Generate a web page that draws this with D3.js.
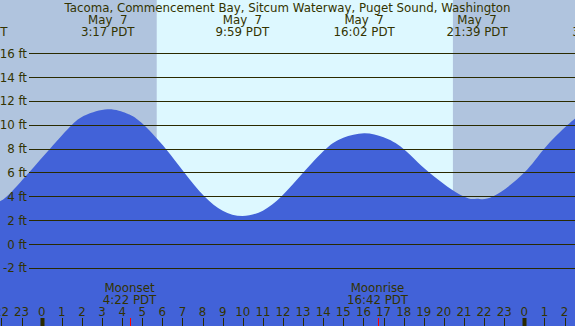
<!DOCTYPE html>
<html>
<head>
<meta charset="utf-8">
<script src="https://cdn.jsdelivr.net/npm/d3@7"></script>
<style>
  body { margin: 0; overflow: hidden; }
  text { font-family: "DejaVu Sans", sans-serif; font-size: 11.8px; fill: #333300; white-space: pre; }
</style>
</head>
<body>
<div id="chart"></div>
<script>
width = 575;
height = 326;

// tide curve (hour of May 7, feet)
var tideHours = [-2.2, -1.725, -0.632, 0.413, 1.507, 2.2, 3.283, 4.2, 4.555, 5.137, 6.166, 7.09, 8.085, 9.0, 9.983, 11.0, 11.93, 13.01, 14.14, 15.0, 16.033, 17.0, 17.98, 19.27, 20.96, 21.65, 22.46, 24.0, 24.99, 26.16, 26.6];
var tideFeet  = [3.57, 4, 6, 8, 10, 10.82, 11.3, 10.98, 10.7, 9.9, 8, 6, 4, 2.8, 2.35, 2.8, 4, 6, 8, 8.92, 9.3, 8.95, 8, 6, 4, 3.8, 4, 6, 8, 10, 10.6];

// high / low tide labels
var extremeHours = [-3.23, 3.283, 9.983, 16.033, 21.65, 27.72];
var extremeDays  = ["May  6", "May  7", "May  7", "May  7", "May  7", "May  8"];
var extremeTimes = ["20:46 PDT", "3:17 PDT", "9:59 PDT", "16:02 PDT", "21:39 PDT", "3:43 PDT"];

// moon events
var moonHours = [4.367, 16.7];
var moonNames = ["Moonset", "Moonrise"];
var moonTimes = ["4:22 PDT", "16:42 PDT"];

// sun: night before sunrise, night after sunset
var sunrise = 5.72;
var sunset = 20.45;

var feetTicks = [-2, 0, 2, 4, 6, 8, 10, 12, 14, 16];
var hourTicks = d3.range(-2, 27);

var title = "Tacoma, Commencement Bay, Sitcum Waterway, Puget Sound, Washington";

function createChart(placement) {

	var svg = d3.select(placement)
		.append("svg")
		.attr("width", width)
		.attr("height", height);

	var x = d3.scaleLinear().domain([0, 24]).range([41.7, 524.3]);
	var y = d3.scaleLinear().domain([0, 16]).range([244, 53.3]);

	svg.append("rect")
		.attr("width", width).attr("height", height)
		.attr("fill", "#ddf8ff");

	svg.append("rect")
		.attr("x", 0).attr("y", 0)
		.attr("width", x(sunrise)).attr("height", height)
		.attr("fill", "#b0c4de");

	svg.append("rect")
		.attr("x", x(sunset)).attr("y", 0)
		.attr("width", width - x(sunset)).attr("height", height)
		.attr("fill", "#b0c4de");

	var tide = tideHours.map(function(h, i) { return {h: h, ft: tideFeet[i]}; });

	var area = d3.area()
		.x(function(d) { return x(d.h); })
		.y0(height)
		.y1(function(d) { return y(d.ft); })
		.curve(d3.curveNatural);

	svg.append("path")
		.datum(tide)
		.attr("d", area)
		.attr("fill", "#4262d8");

	// grid lines with feet labels
	svg.append("g")
		.selectAll("line")
		.data(feetTicks)
		.enter().append("line")
		.attr("x1", 29).attr("x2", width)
		.attr("y1", function(d) { return Math.round(y(d)) + 0.5; })
		.attr("y2", function(d) { return Math.round(y(d)) + 0.5; })
		.attr("stroke", "#2a2a00")
		.attr("stroke-width", 1.2);

	svg.append("g")
		.selectAll("text")
		.data(feetTicks)
		.enter().append("text")
		.attr("x", 27)
		.attr("y", function(d) { return y(d) + 4.5; })
		.style("text-anchor", "end")
		.text(function(d) { return d + " ft"; });

	svg.append("text")
		.attr("x", width / 2)
		.attr("y", 12)
		.style("text-anchor", "middle")
		.text(title);

	var ext = svg.append("g")
		.selectAll("g")
		.data(extremeHours)
		.enter().append("g");

	ext.append("text")
		.attr("x", function(d) { return x(d); })
		.attr("y", 24)
		.style("text-anchor", "middle")
		.text(function(d, i) { return extremeDays[i]; });

	ext.append("text")
		.attr("x", function(d) { return x(d); })
		.attr("y", 35.5)
		.style("text-anchor", "middle")
		.text(function(d, i) { return extremeTimes[i]; });

	// moon labels and red markers
	var moon = svg.append("g")
		.selectAll("g")
		.data(moonHours)
		.enter().append("g");

	moon.append("text")
		.attr("x", function(d) { return x(d); })
		.attr("y", 291.5)
		.style("text-anchor", "middle")
		.text(function(d, i) { return moonNames[i]; });

	moon.append("text")
		.attr("x", function(d) { return x(d); })
		.attr("y", 303.5)
		.style("text-anchor", "middle")
		.text(function(d, i) { return moonTimes[i]; });

	// hour axis along the bottom
	svg.append("g")
		.selectAll("text")
		.data(hourTicks)
		.enter().append("text")
		.attr("x", function(d) { return x(d); })
		.attr("y", 316)
		.style("text-anchor", "middle")
		.text(function(d) { return (d + 24) % 24; });

	svg.append("g")
		.selectAll("line")
		.data(hourTicks)
		.enter().append("line")
		.attr("x1", function(d) { return Math.round(x(d)) + 0.5; })
		.attr("x2", function(d) { return Math.round(x(d)) + 0.5; })
		.attr("y1", 318).attr("y2", height)
		.attr("stroke", "#2a2a00")
		.attr("stroke-width", function(d) { return d % 24 == 0 ? 4 : 1; });

	moon.append("line")
		.attr("x1", function(d) { return Math.round(x(d)) + 0.5; })
		.attr("x2", function(d) { return Math.round(x(d)) + 0.5; })
		.attr("y1", 318).attr("y2", height)
		.attr("stroke", "#ff0000")
		.attr("stroke-width", 1);
}

createChart("#chart");
</script>
</body>
</html>
